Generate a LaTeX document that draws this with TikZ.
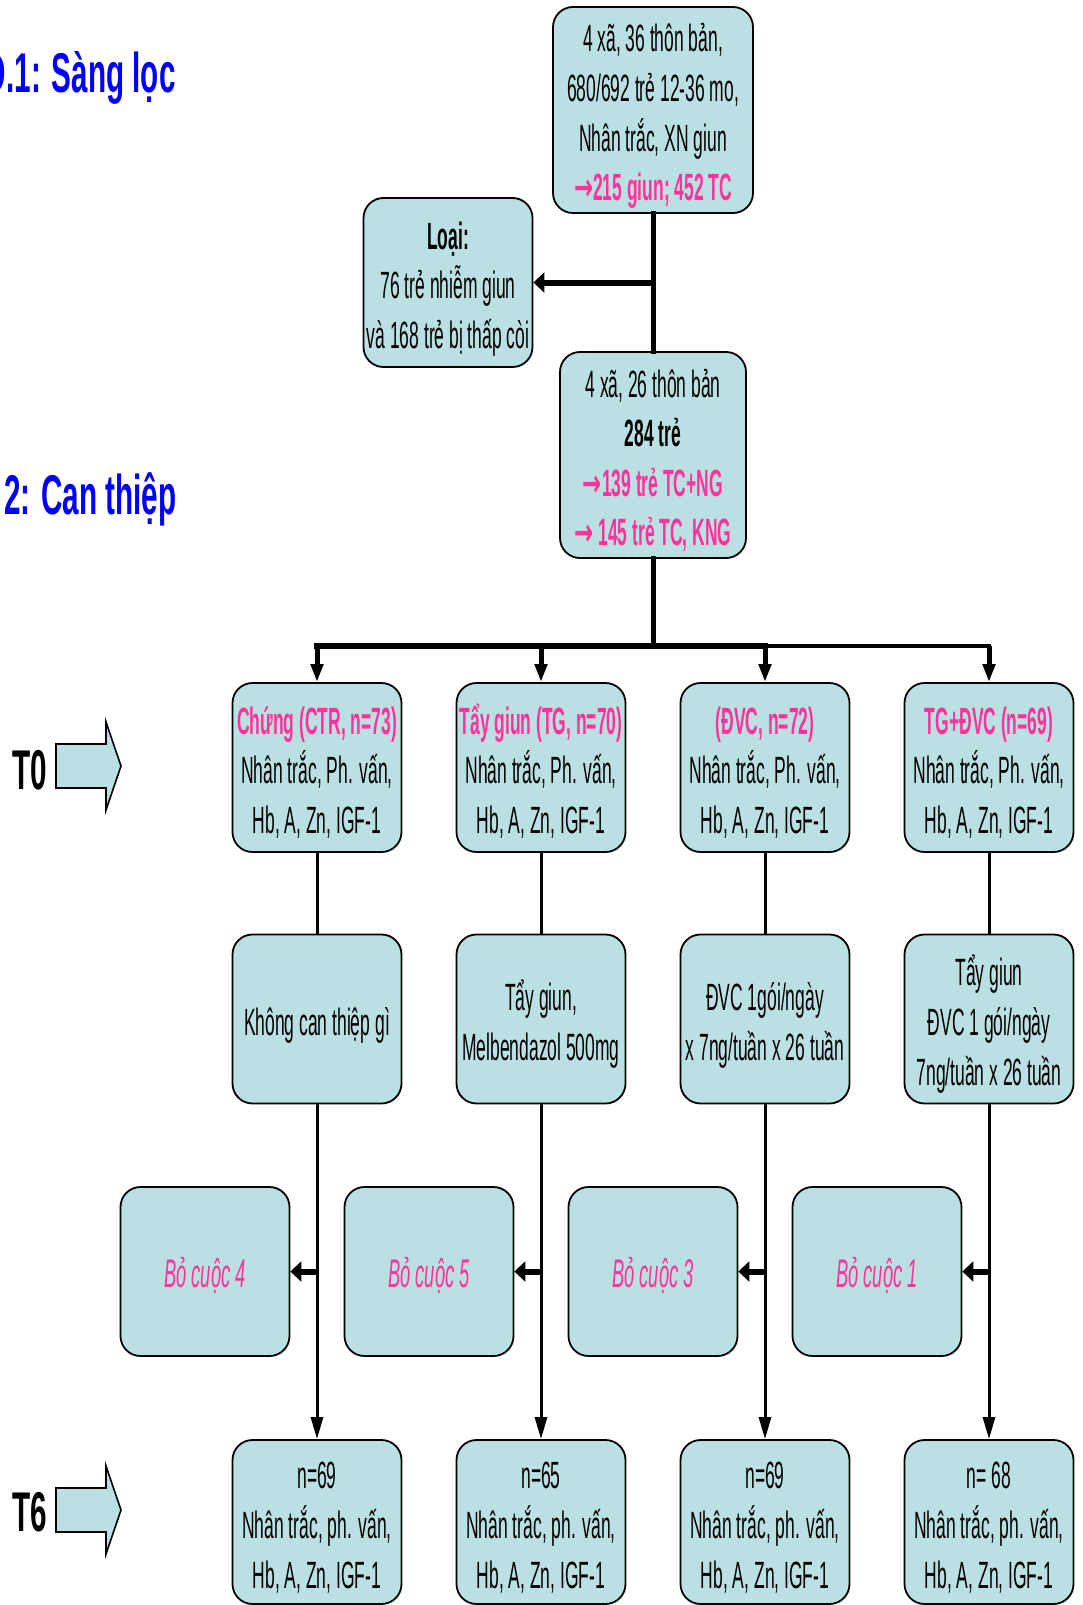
\documentclass[tikz,border=0pt]{standalone}
\usepackage{fontspec}
\setmainfont{Liberation Sans}[FakeStretch=0.46]
\newfontfamily\headfont{Liberation Sans}[FakeStretch=0.53]
\newfontfamily\arrowfont{DejaVu Sans}[FakeStretch=0.6]
\usetikzlibrary{arrows.meta}
\definecolor{boxfill}{RGB}{187,224,227}
\definecolor{hotpink}{RGB}{255,51,153}
\definecolor{headblue}{RGB}{0,0,255}
\newcommand{\pinkb}[1]{\textcolor{hotpink}{\bfseries #1}}
\newcommand{\rarr}{{\arrowfont\bfseries →}}
\newcommand{\boxstrut}{\rule{0pt}{21pt}}

\begin{document}
\begin{tikzpicture}[x=0.5pt,y=-0.5pt,
  box/.style={draw=black,line width=0.9pt,fill=boxfill,rounded corners=10pt,align=center,
    inner xsep=0.5pt,inner ysep=0pt,minimum width=84.5pt,minimum height=84.5pt,
    font=\fontsize{19pt}{24.8pt}\selectfont,text depth=4.6pt},
  quit/.style={font=\fontsize{20pt}{24.8pt}\selectfont\itshape,text=hotpink},
  thickline/.style={line width=2.5pt,line cap=rect},
  thinline/.style={line width=1.5pt},
  droparrow/.style={line width=2.5pt,-{Triangle[length=9pt,width=6pt]}},
  endarrow/.style={line width=1.5pt,-{Triangle[length=11pt,width=6pt]}},
  sidearrow/.style={line width=3pt,-{Triangle[length=5.5pt,width=10pt]}},
  bigarrow/.style={draw=black,line width=0.8pt,fill=boxfill},
  stage/.style={font=\headfont\fontsize{28pt}{32pt}\selectfont\bfseries,text=headblue,inner sep=0pt},
  tlabel/.style={font=\headfont\fontsize{28pt}{32pt}\selectfont\bfseries,inner sep=0pt}]
  \useasboundingbox (0,0) rectangle (1082,1605);
  \clip (0,0) rectangle (1082,1605);

  % stage titles and time marks
  \node[stage,anchor=base east] (stage1) at (176,93) {Đ.1: Sàng lọc};
  \node[stage,anchor=base east] (stage2) at (177,514) {2: Can thiệp};
  \node[tlabel] (t0) at (30,770) {T0};
  \node[tlabel] (t6) at (30,1512) {T6};
  \draw[bigarrow] (56,744) -- (106,744) -- (106,722) -- (121,766) -- (106,810) -- (106,788) -- (56,788) -- cycle;
  \draw[bigarrow] (56,1488) -- (106,1488) -- (106,1466) -- (121,1510) -- (106,1554) -- (106,1532) -- (56,1532) -- cycle;

  % screening
  \node[box,minimum width=100pt,minimum height=103pt] (screen) at (653,110)
    {\boxstrut 4 xã, 36 thôn bản,\\680/692 trẻ 12-36 mo,\\Nhân trắc, XN giun\\\pinkb{\rarr215 giun; 452 TC}};
  \node[box] (excl) at (448,282.5) {\boxstrut\textbf{Loại:}\\76 trẻ nhiễm giun\\và 168 trẻ bị thấp còi};
  \node[box,minimum width=93pt,minimum height=103pt] (pool) at (653,455)
    {\boxstrut 4 xã, 26 thôn bản\\\textbf{284 trẻ}\\\pinkb{\rarr139 trẻ TC+NG}\\\pinkb{\rarr\ 145 trẻ TC, KNG}};

  % T0 groups
  \node[box] (ctr) at (317,767.5) {\boxstrut\pinkb{Chứng (CTR, n=73)}\\Nhân trắc, Ph. vấn,\\Hb, A, Zn, IGF-1};
  \node[box] (tg) at (541,767.5) {\boxstrut\pinkb{Tẩy giun (TG, n=70)}\\Nhân trắc, Ph. vấn,\\Hb, A, Zn, IGF-1};
  \node[box] (dvc) at (765,767.5) {\boxstrut\pinkb{(ĐVC, n=72)}\\Nhân trắc, Ph. vấn,\\Hb, A, Zn, IGF-1};
  \node[box] (tgdvc) at (989,767.5) {\boxstrut\pinkb{TG+ĐVC (n=69)}\\Nhân trắc, Ph. vấn,\\Hb, A, Zn, IGF-1};

  % interventions
  \node[box] (ctrdo) at (317,1019) {\boxstrut Không can thiệp gì};
  \node[box] (tgdo) at (541,1019) {\boxstrut Tẩy giun,\\Melbendazol 500mg};
  \node[box] (dvcdo) at (765,1019) {\boxstrut ĐVC 1gói/ngày\\x 7ng/tuần x 26 tuần};
  \node[box] (tgdvcdo) at (989,1019) {\boxstrut Tẩy giun\\ĐVC 1 gói/ngày\\7ng/tuần x 26 tuần};

  % drop outs
  \node[box,quit] (ctrq) at (205,1271.5) {\boxstrut Bỏ cuộc 4};
  \node[box,quit] (tgq) at (429,1271.5) {\boxstrut Bỏ cuộc 5};
  \node[box,quit] (dvcq) at (653,1271.5) {\boxstrut Bỏ cuộc 3};
  \node[box,quit] (tgdvcq) at (877,1271.5) {\boxstrut Bỏ cuộc 1};

  % T6
  \node[box,minimum height=82pt] (ctrend) at (317,1522) {\boxstrut n=69\\Nhân trắc, ph. vấn,\\Hb, A, Zn, IGF-1};
  \node[box,minimum height=82pt] (tgend) at (541,1522) {\boxstrut n=65\\Nhân trắc, ph. vấn,\\Hb, A, Zn, IGF-1};
  \node[box,minimum height=82pt] (dvcend) at (765,1522) {\boxstrut n=69\\Nhân trắc, ph. vấn,\\Hb, A, Zn, IGF-1};
  \node[box,minimum height=82pt] (tgdvcend) at (989,1522) {\boxstrut n= 68\\Nhân trắc, ph. vấn,\\Hb, A, Zn, IGF-1};

  % connectors
  \draw[thickline] (screen.south) -- (pool.north);
  \draw[sidearrow] (excl.east -| screen.south) -- (excl.east);
  \coordinate (hub) at (653,646);
  \draw[thickline] (pool.south) -- (hub);
  \draw[thickline,line width=3.2pt] (hub -| ctr.north) -- (hub -| dvc.north);
  \draw[thickline,line width=2.2pt] (hub) -- (hub -| tgdvc.north);
  \draw[droparrow] (hub -| ctr.north) -- (ctr.north);
  \draw[droparrow] (hub -| tg.north) -- (tg.north);
  \draw[droparrow] (hub -| dvc.north) -- (dvc.north);
  \draw[droparrow] (hub -| tgdvc.north) -- (tgdvc.north);

  \draw[thinline] (ctr.south) -- (ctrdo.north);
  \draw[thinline] (tg.south) -- (tgdo.north);
  \draw[thinline] (dvc.south) -- (dvcdo.north);
  \draw[thinline] (tgdvc.south) -- (tgdvcdo.north);

  \draw[endarrow] (ctrdo.south) -- (ctrend.north);
  \draw[endarrow] (tgdo.south) -- (tgend.north);
  \draw[endarrow] (dvcdo.south) -- (dvcend.north);
  \draw[endarrow] (tgdvcdo.south) -- (tgdvcend.north);

  \draw[sidearrow] (ctrq.east -| ctrdo.south) -- (ctrq.east);
  \draw[sidearrow] (tgq.east -| tgdo.south) -- (tgq.east);
  \draw[sidearrow] (dvcq.east -| dvcdo.south) -- (dvcq.east);
  \draw[sidearrow] (tgdvcq.east -| tgdvcdo.south) -- (tgdvcq.east);
\end{tikzpicture}
\end{document}
